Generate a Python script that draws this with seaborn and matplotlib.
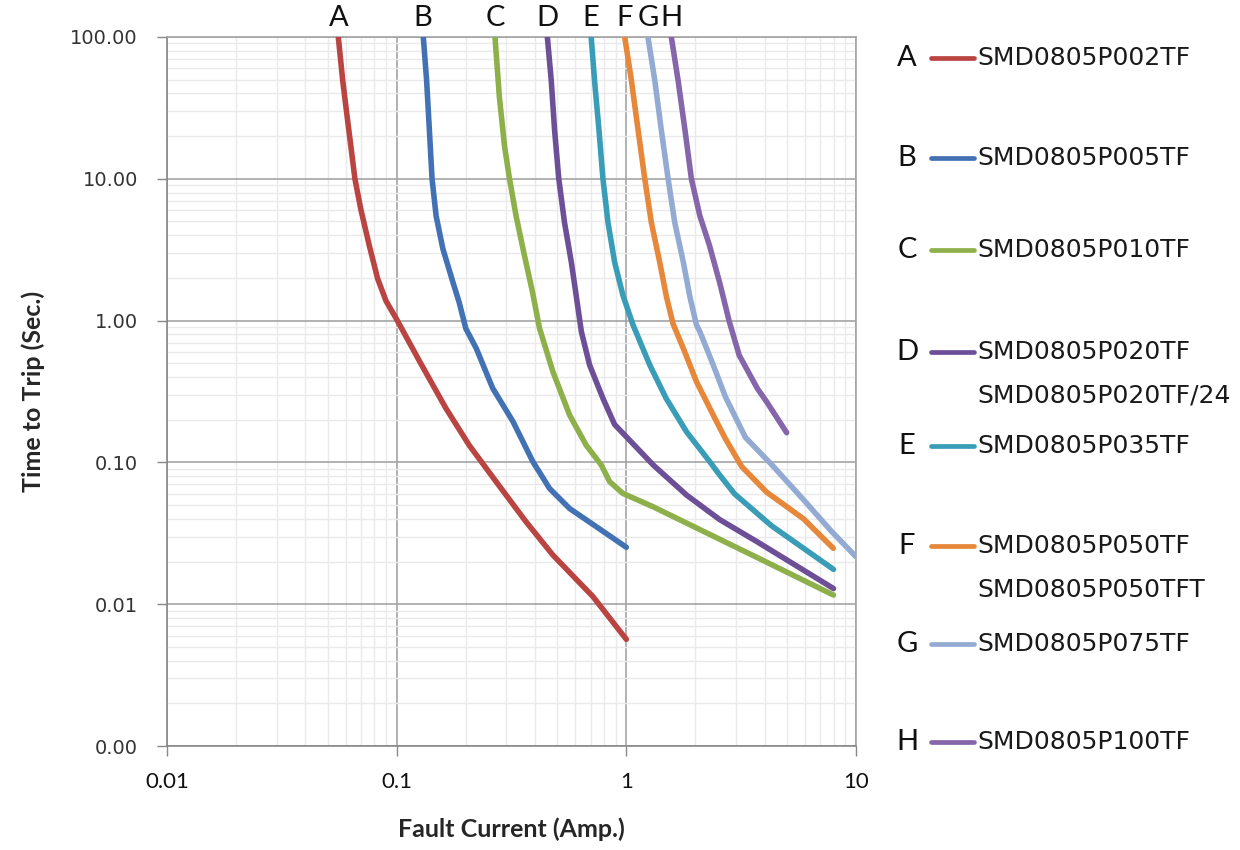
import matplotlib
matplotlib.use("Agg")

import matplotlib.pyplot as plt
import matplotlib.transforms as mtransforms
from matplotlib.lines import Line2D
from matplotlib.ticker import FuncFormatter, LogLocator
import seaborn as sns

# ---------------------------------------------------------------------------
# Data (current in A, time in s)
# ---------------------------------------------------------------------------
letters = ["A", "B", "C", "D", "E", "F", "G", "H"]
part_names = [
    "SMD0805P002TF",
    "SMD0805P005TF",
    "SMD0805P010TF",
    "SMD0805P020TF\nSMD0805P020TF/24",
    "SMD0805P035TF",
    "SMD0805P050TF\nSMD0805P050TFT",
    "SMD0805P075TF",
    "SMD0805P100TF",
]
colors = ["#B94441", "#4372B4", "#8DB04A", "#6C4F97",
          "#3A9DB8", "#E6873A", "#93ABD3", "#8566AB"]

a_x = [0.0557, 0.0582, 0.0606, 0.0632, 0.0658, 0.0698, 0.076, 0.0826, 0.0898,
       0.1, 0.126, 0.164, 0.207, 0.271, 0.366, 0.479, 0.716, 1.0]
a_y = [100, 49.5, 29.0, 16.9, 10, 6.1, 3.38, 1.98, 1.38,
       1.02, 0.514, 0.240, 0.132, 0.0731, 0.0381, 0.0222, 0.0113, 0.00565]

b_x = [0.1306, 0.135, 0.1388, 0.1426, 0.1485, 0.159, 0.1755, 0.187, 0.2,
       0.222, 0.262, 0.321, 0.392, 0.463, 0.566, 0.740, 1.0]
b_y = [100, 49.5, 22.1, 10, 5.48, 3.2, 1.88, 1.35, 0.88,
       0.638, 0.333, 0.194, 0.101, 0.0655, 0.0473, 0.0352, 0.0252]

c_x = [0.268, 0.28, 0.295, 0.31, 0.331, 0.36, 0.39, 0.419, 0.479,
       0.566, 0.669, 0.778, 0.846, 0.966, 1.31, 2.55, 3.72, 7.98]
c_y = [100, 37.8, 16.9, 10, 5.48, 2.88, 1.6, 0.88, 0.436,
       0.216, 0.132, 0.0958, 0.0731, 0.0604, 0.0486, 0.0287, 0.0213, 0.0116]

d_x = [0.453, 0.471, 0.487, 0.508, 0.538, 0.576, 0.606, 0.637, 0.692,
       0.791, 0.889, 1.016, 1.31, 1.83, 2.55, 3.72, 7.98]
d_y = [100, 49.5, 22.1, 10, 4.92, 2.59, 1.47, 0.836, 0.486,
       0.283, 0.185, 0.1476, 0.0958, 0.0588, 0.0395, 0.0275, 0.0129]

e_x = [0.703, 0.727, 0.760, 0.791, 0.832, 0.889, 0.966, 1.07, 1.265,
       1.49, 1.83, 2.31, 2.55, 2.96, 4.28, 7.98]
e_y = [100, 49.5, 22.1, 10, 4.92, 2.59, 1.51, 0.93, 0.486,
       0.283, 0.164, 0.101, 0.0814, 0.060, 0.0358, 0.0176]

f_x = [0.984, 1.052, 1.125, 1.203, 1.285, 1.397, 1.494, 1.597, 1.77,
       2.02, 2.47, 2.70, 3.18, 4.08, 5.91, 7.96]
f_y = [100, 49.5, 22.1, 10, 4.92, 2.59, 1.48, 0.95, 0.638,
       0.371, 0.194, 0.147, 0.0933, 0.0617, 0.040, 0.0248]

g_x = [1.242, 1.33, 1.42, 1.52, 1.625, 1.77, 1.89, 2.02, 2.09,
       2.39, 2.70, 3.3, 4.28, 5.91, 7.8, 10.0]
g_y = [100, 49.5, 22.1, 10, 4.92, 2.59, 1.48, 0.933, 0.836,
       0.486, 0.29, 0.15, 0.097, 0.0545, 0.0328, 0.0216]

h_x = [1.57, 1.68, 1.80, 1.92, 2.09, 2.30, 2.55, 2.8, 3.1, 3.72, 4.08, 4.99]
h_y = [100, 49.5, 22.1, 10, 5.48, 3.4, 1.85, 1.0, 0.57, 0.332, 0.268, 0.162]

series_x = [a_x, b_x, c_x, d_x, e_x, f_x, g_x, h_x]
series_y = [a_y, b_y, c_y, d_y, e_y, f_y, g_y, h_y]

# ---------------------------------------------------------------------------
# Figure
# ---------------------------------------------------------------------------
sns.set_style("white")
plt.rcParams["font.family"] = ["Lato", "DejaVu Sans"]

W, H = 1240, 850
fig = plt.figure(figsize=(W / 100, H / 100), dpi=100)
ax = fig.add_axes([167 / W, 1 - 746 / H, (856 - 167) / W, (746 - 37) / H])

for xs, ys, col in zip(series_x, series_y, colors):
    sns.lineplot(x=xs, y=ys, sort=False, estimator=None, color=col,
                 lw=4.0, solid_capstyle="round", solid_joinstyle="round",
                 ax=ax, zorder=3)

ax.set_xscale("log")
ax.set_yscale("log")
ax.set_xlim(0.01, 10)
ax.set_ylim(0.001, 100)

ax.xaxis.set_major_locator(LogLocator(base=10, numticks=10))
ax.yaxis.set_major_locator(LogLocator(base=10, numticks=10))
ax.xaxis.set_minor_locator(LogLocator(base=10, subs=range(2, 10), numticks=20))
ax.yaxis.set_minor_locator(LogLocator(base=10, subs=range(2, 10), numticks=20))
ax.xaxis.set_major_formatter(FuncFormatter(lambda v, p: f"{v:g}"))
ax.yaxis.set_major_formatter(FuncFormatter(lambda v, p: f"{v:.2f}"))
ax.xaxis.set_minor_formatter(FuncFormatter(lambda v, p: ""))
ax.yaxis.set_minor_formatter(FuncFormatter(lambda v, p: ""))

ax.grid(which="major", color="#A4A4A4", lw=1.2, zorder=1)
ax.grid(which="minor", color="#EAEAEA", lw=1.0, zorder=0)
ax.set_axisbelow(True)

ax.tick_params(which="major", direction="out", length=7, width=1,
               color="#888888", left=True, bottom=True)
ax.tick_params(which="minor", length=0)
ax.tick_params(axis="x", labelsize=16, pad=12, labelcolor="#111111")
ax.tick_params(axis="y", labelsize=14, pad=14, labelcolor="#333333",
               labelfontfamily="DejaVu Sans")

for side in ["top", "right"]:
    ax.spines[side].set_color("#A4A4A4")
for side in ["left", "bottom"]:
    ax.spines[side].set_color("#888888")
for sp in ax.spines.values():
    sp.set_linewidth(1.2)

ax.set_xlabel("Fault Current (Amp.)", fontsize=18, fontweight="bold", labelpad=18)
ax.set_ylabel("Time to Trip (Sec.)", fontsize=18, fontweight="bold", labelpad=18)

# curve letters above the plot
top_trans = mtransforms.blended_transform_factory(ax.transData, fig.transFigure)
for let, xs in zip(letters, series_x):
    ax.text(xs[0], 1 - 18 / H, let, transform=top_trans, ha="center",
            va="center", fontsize=21, color="#111111")

# hand-made legend on the right
row_py = [58, 158, 250, 352, 446, 546, 644, 742]
for let, name, col, py in zip(letters, part_names, colors, row_py):
    yf = 1 - py / H
    fig.text(907 / W, yf, let, ha="center", va="center", fontsize=21,
             color="#111111")
    fig.add_artist(Line2D([931 / W, 974 / W], [yf, yf], color=col, lw=3.4,
                          solid_capstyle="round", transform=fig.transFigure))
    for i, line in enumerate(name.split("\n")):
        fig.text(977 / W, 1 - (py + 44 * i) / H, line, ha="left",
                 va="center", fontsize=18, family=["DejaVu Sans"],
                 color="#1A1A1A")

fig.savefig("out.png", dpi=100)
